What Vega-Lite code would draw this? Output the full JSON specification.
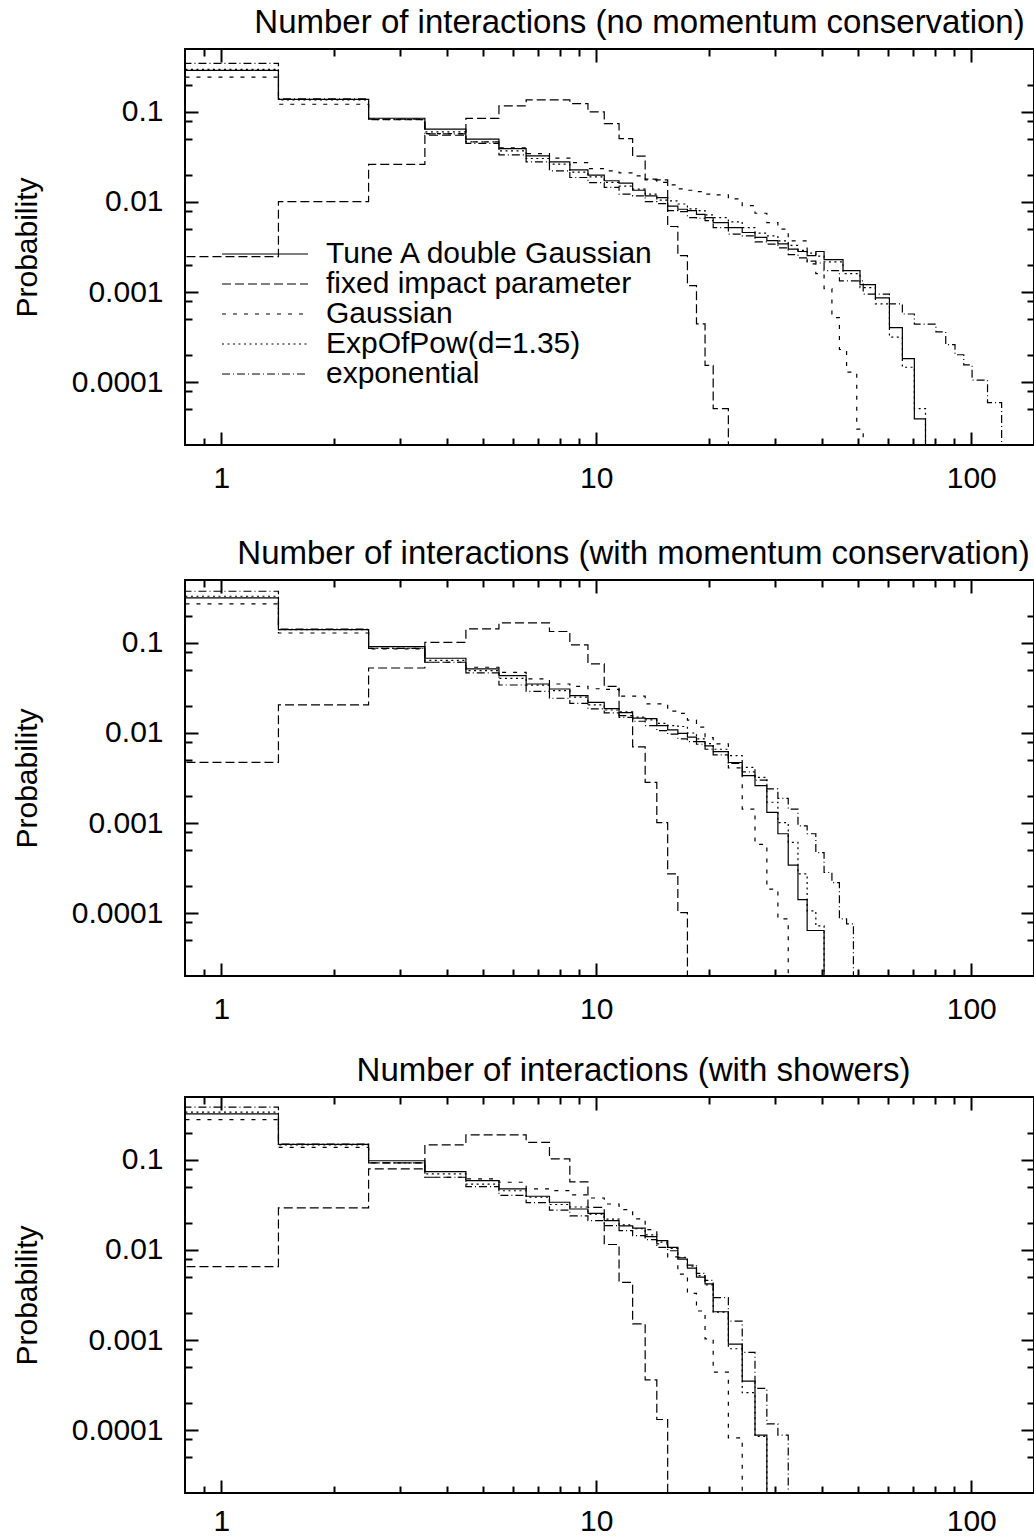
{
"$schema": "https://vega.github.io/schema/vega-lite/v6.json",
"background": "white",
"padding": {"left": 11, "top": 6, "right": 0, "bottom": 0},
"config": {
  "view": {"stroke": "black", "strokeWidth": 2},
  "font": "Liberation Sans",
  "title": {"font": "Liberation Sans", "fontSize": 33, "fontWeight": "normal", "color": "black", "anchor": "middle", "dx": 24, "offset": 8},
  "axis": {"labelFont": "Liberation Sans", "labelFontSize": 30, "labelColor": "black", "titleFont": "Liberation Sans", "titleFontSize": 30, "titleFontWeight": "normal", "titleColor": "black", "domain": false, "grid": false, "tickColor": "black", "tickWidth": 2, "labelFlush": false, "labelOverlap": false}
},
"datasets": {
"tick": [{"x": 1, "y": 0.1}],
"p1": [
{"series":"Tune A double Gaussian","x":0.5,"y":0.29},{"series":"Tune A double Gaussian","x":1.42,"y":0.138},{"series":"Tune A double Gaussian","x":2.47,"y":0.0851},{"series":"Tune A double Gaussian","x":3.49,"y":0.0643},{"series":"Tune A double Gaussian","x":4.49,"y":0.0498},{"series":"Tune A double Gaussian","x":5.5,"y":0.0392},{"series":"Tune A double Gaussian","x":6.5,"y":0.0325},{"series":"Tune A double Gaussian","x":7.5,"y":0.0279},{"series":"Tune A double Gaussian","x":8.5,"y":0.0227},{"series":"Tune A double Gaussian","x":9.5,"y":0.0199},{"series":"Tune A double Gaussian","x":10.5,"y":0.0172},{"series":"Tune A double Gaussian","x":11.5,"y":0.0162},{"series":"Tune A double Gaussian","x":12.5,"y":0.0135},{"series":"Tune A double Gaussian","x":13.5,"y":0.0117},{"series":"Tune A double Gaussian","x":14.5,"y":0.0112},{"series":"Tune A double Gaussian","x":15.5,"y":0.009},{"series":"Tune A double Gaussian","x":16.5,"y":0.0083},{"series":"Tune A double Gaussian","x":17.5,"y":0.008},{"series":"Tune A double Gaussian","x":18.5,"y":0.0073},{"series":"Tune A double Gaussian","x":19.5,"y":0.0067},{"series":"Tune A double Gaussian","x":20.5,"y":0.0059},{"series":"Tune A double Gaussian","x":22.5,"y":0.0052},{"series":"Tune A double Gaussian","x":24.5,"y":0.00458},{"series":"Tune A double Gaussian","x":26.5,"y":0.00404},{"series":"Tune A double Gaussian","x":28.5,"y":0.00372},{"series":"Tune A double Gaussian","x":30.5,"y":0.00342},{"series":"Tune A double Gaussian","x":32.5,"y":0.003},{"series":"Tune A double Gaussian","x":34.5,"y":0.00282},{"series":"Tune A double Gaussian","x":36.5,"y":0.00254},{"series":"Tune A double Gaussian","x":38.5,"y":0.00282},{"series":"Tune A double Gaussian","x":40.5,"y":0.00229},{"series":"Tune A double Gaussian","x":45.5,"y":0.00173},{"series":"Tune A double Gaussian","x":50.5,"y":0.00121},{"series":"Tune A double Gaussian","x":55.5,"y":0.00086},{"series":"Tune A double Gaussian","x":60.5,"y":0.000403},{"series":"Tune A double Gaussian","x":65.5,"y":0.000182},{"series":"Tune A double Gaussian","x":70.5,"y":0.000039},{"series":"Tune A double Gaussian","x":75.5,"y":0.000001},
{"series":"fixed impact parameter","x":0.5,"y":0.00247},{"series":"fixed impact parameter","x":1.42,"y":0.0101},{"series":"fixed impact parameter","x":2.47,"y":0.0261},{"series":"fixed impact parameter","x":3.49,"y":0.0551},{"series":"fixed impact parameter","x":4.49,"y":0.085},{"series":"fixed impact parameter","x":5.5,"y":0.1165},{"series":"fixed impact parameter","x":6.5,"y":0.136},{"series":"fixed impact parameter","x":7.5,"y":0.136},{"series":"fixed impact parameter","x":8.5,"y":0.124},{"series":"fixed impact parameter","x":9.5,"y":0.1},{"series":"fixed impact parameter","x":10.5,"y":0.0742},{"series":"fixed impact parameter","x":11.5,"y":0.0506},{"series":"fixed impact parameter","x":12.5,"y":0.0323},{"series":"fixed impact parameter","x":13.5,"y":0.0179},{"series":"fixed impact parameter","x":14.5,"y":0.0176},{"series":"fixed impact parameter","x":15.5,"y":0.00534},{"series":"fixed impact parameter","x":16.5,"y":0.00253},{"series":"fixed impact parameter","x":17.5,"y":0.00118},{"series":"fixed impact parameter","x":18.5,"y":0.000442},{"series":"fixed impact parameter","x":19.5,"y":0.000153},{"series":"fixed impact parameter","x":20.5,"y":0.0000506},{"series":"fixed impact parameter","x":22.5,"y":0.000001},
{"series":"Gaussian","x":0.5,"y":0.244},{"series":"Gaussian","x":1.42,"y":0.1217},{"series":"Gaussian","x":2.47,"y":0.082},{"series":"Gaussian","x":3.49,"y":0.0575},{"series":"Gaussian","x":4.49,"y":0.0465},{"series":"Gaussian","x":5.5,"y":0.04},{"series":"Gaussian","x":6.5,"y":0.0345},{"series":"Gaussian","x":7.5,"y":0.0307},{"series":"Gaussian","x":8.5,"y":0.0274},{"series":"Gaussian","x":9.5,"y":0.0235},{"series":"Gaussian","x":10.5,"y":0.0222},{"series":"Gaussian","x":11.5,"y":0.021},{"series":"Gaussian","x":12.5,"y":0.0195},{"series":"Gaussian","x":13.5,"y":0.0176},{"series":"Gaussian","x":14.5,"y":0.0165},{"series":"Gaussian","x":15.5,"y":0.0155},{"series":"Gaussian","x":16.5,"y":0.014},{"series":"Gaussian","x":17.5,"y":0.0135},{"series":"Gaussian","x":18.5,"y":0.013},{"series":"Gaussian","x":19.5,"y":0.0122},{"series":"Gaussian","x":20.5,"y":0.012},{"series":"Gaussian","x":22.5,"y":0.0108},{"series":"Gaussian","x":24.5,"y":0.0091},{"series":"Gaussian","x":26.5,"y":0.0075},{"series":"Gaussian","x":28.5,"y":0.0059},{"series":"Gaussian","x":30.5,"y":0.005},{"series":"Gaussian","x":32.5,"y":0.0037},{"series":"Gaussian","x":36.5,"y":0.00205},{"series":"Gaussian","x":38.5,"y":0.0016},{"series":"Gaussian","x":40.5,"y":0.00109},{"series":"Gaussian","x":42.5,"y":0.00052},{"series":"Gaussian","x":44.5,"y":0.00023},{"series":"Gaussian","x":46.5,"y":0.000129},{"series":"Gaussian","x":49.5,"y":0.00003},{"series":"Gaussian","x":51.5,"y":0.000001},
{"series":"ExpOfPow(d=1.35)","x":0.5,"y":0.297},{"series":"ExpOfPow(d=1.35)","x":1.42,"y":0.136},{"series":"ExpOfPow(d=1.35)","x":2.47,"y":0.082},{"series":"ExpOfPow(d=1.35)","x":3.49,"y":0.06},{"series":"ExpOfPow(d=1.35)","x":4.49,"y":0.0465},{"series":"ExpOfPow(d=1.35)","x":5.5,"y":0.037},{"series":"ExpOfPow(d=1.35)","x":6.5,"y":0.0304},{"series":"ExpOfPow(d=1.35)","x":7.5,"y":0.0263},{"series":"ExpOfPow(d=1.35)","x":8.5,"y":0.0215},{"series":"ExpOfPow(d=1.35)","x":9.5,"y":0.019},{"series":"ExpOfPow(d=1.35)","x":10.5,"y":0.0165},{"series":"ExpOfPow(d=1.35)","x":11.5,"y":0.015},{"series":"ExpOfPow(d=1.35)","x":12.5,"y":0.0139},{"series":"ExpOfPow(d=1.35)","x":13.5,"y":0.0122},{"series":"ExpOfPow(d=1.35)","x":14.5,"y":0.0105},{"series":"ExpOfPow(d=1.35)","x":15.5,"y":0.0103},{"series":"ExpOfPow(d=1.35)","x":16.5,"y":0.0095},{"series":"ExpOfPow(d=1.35)","x":17.5,"y":0.0084},{"series":"ExpOfPow(d=1.35)","x":18.5,"y":0.008},{"series":"ExpOfPow(d=1.35)","x":19.5,"y":0.0072},{"series":"ExpOfPow(d=1.35)","x":20.5,"y":0.0067},{"series":"ExpOfPow(d=1.35)","x":22.5,"y":0.006},{"series":"ExpOfPow(d=1.35)","x":24.5,"y":0.0052},{"series":"ExpOfPow(d=1.35)","x":26.5,"y":0.0045},{"series":"ExpOfPow(d=1.35)","x":28.5,"y":0.0042},{"series":"ExpOfPow(d=1.35)","x":30.5,"y":0.0037},{"series":"ExpOfPow(d=1.35)","x":32.5,"y":0.0033},{"series":"ExpOfPow(d=1.35)","x":34.5,"y":0.0029},{"series":"ExpOfPow(d=1.35)","x":36.5,"y":0.0027},{"series":"ExpOfPow(d=1.35)","x":38.5,"y":0.0025},{"series":"ExpOfPow(d=1.35)","x":40.5,"y":0.00216},{"series":"ExpOfPow(d=1.35)","x":45.5,"y":0.0016},{"series":"ExpOfPow(d=1.35)","x":50.5,"y":0.00112},{"series":"ExpOfPow(d=1.35)","x":55.5,"y":0.00074},{"series":"ExpOfPow(d=1.35)","x":60.5,"y":0.000316},{"series":"ExpOfPow(d=1.35)","x":65.5,"y":0.000146},{"series":"ExpOfPow(d=1.35)","x":70.5,"y":0.0000506},{"series":"ExpOfPow(d=1.35)","x":75.5,"y":0.000001},
{"series":"exponential","x":0.5,"y":0.347},{"series":"exponential","x":1.42,"y":0.14},{"series":"exponential","x":2.47,"y":0.083},{"series":"exponential","x":3.49,"y":0.057},{"series":"exponential","x":4.49,"y":0.0447},{"series":"exponential","x":5.5,"y":0.0333},{"series":"exponential","x":6.5,"y":0.0279},{"series":"exponential","x":7.5,"y":0.0222},{"series":"exponential","x":8.5,"y":0.0187},{"series":"exponential","x":9.5,"y":0.0164},{"series":"exponential","x":10.5,"y":0.0145},{"series":"exponential","x":11.5,"y":0.0122},{"series":"exponential","x":12.5,"y":0.0117},{"series":"exponential","x":13.5,"y":0.0101},{"series":"exponential","x":14.5,"y":0.0096},{"series":"exponential","x":15.5,"y":0.008},{"series":"exponential","x":16.5,"y":0.0078},{"series":"exponential","x":17.5,"y":0.0067},{"series":"exponential","x":18.5,"y":0.0066},{"series":"exponential","x":19.5,"y":0.0062},{"series":"exponential","x":20.5,"y":0.0052},{"series":"exponential","x":22.5,"y":0.0044},{"series":"exponential","x":24.5,"y":0.0042},{"series":"exponential","x":26.5,"y":0.0036},{"series":"exponential","x":28.5,"y":0.0034},{"series":"exponential","x":30.5,"y":0.0031},{"series":"exponential","x":32.5,"y":0.0026},{"series":"exponential","x":34.5,"y":0.0024},{"series":"exponential","x":36.5,"y":0.0022},{"series":"exponential","x":38.5,"y":0.0021},{"series":"exponential","x":40.5,"y":0.00173},{"series":"exponential","x":44.5,"y":0.00133},{"series":"exponential","x":51.5,"y":0.00095},{"series":"exponential","x":60.5,"y":0.00074},{"series":"exponential","x":65.5,"y":0.00057},{"series":"exponential","x":70.5,"y":0.00044},{"series":"exponential","x":80.5,"y":0.00036},{"series":"exponential","x":85.5,"y":0.00026},{"series":"exponential","x":90.5,"y":0.000201},{"series":"exponential","x":95.5,"y":0.000155},{"series":"exponential","x":100.5,"y":0.000105},{"series":"exponential","x":110.5,"y":0.000059},{"series":"exponential","x":120.5,"y":0.000001}
],
"p2": [
{"series":"Tune A double Gaussian","x":0.5,"y":0.316},{"series":"Tune A double Gaussian","x":1.42,"y":0.1406},{"series":"Tune A double Gaussian","x":2.47,"y":0.091},{"series":"Tune A double Gaussian","x":3.49,"y":0.0676},{"series":"Tune A double Gaussian","x":4.49,"y":0.0514},{"series":"Tune A double Gaussian","x":5.5,"y":0.0433},{"series":"Tune A double Gaussian","x":6.5,"y":0.035},{"series":"Tune A double Gaussian","x":7.5,"y":0.0308},{"series":"Tune A double Gaussian","x":8.5,"y":0.026},{"series":"Tune A double Gaussian","x":9.5,"y":0.0219},{"series":"Tune A double Gaussian","x":10.5,"y":0.0186},{"series":"Tune A double Gaussian","x":11.5,"y":0.0168},{"series":"Tune A double Gaussian","x":12.5,"y":0.0146},{"series":"Tune A double Gaussian","x":13.5,"y":0.0144},{"series":"Tune A double Gaussian","x":14.5,"y":0.0121},{"series":"Tune A double Gaussian","x":15.5,"y":0.0108},{"series":"Tune A double Gaussian","x":16.5,"y":0.0099},{"series":"Tune A double Gaussian","x":17.5,"y":0.009},{"series":"Tune A double Gaussian","x":18.5,"y":0.008},{"series":"Tune A double Gaussian","x":19.5,"y":0.0072},{"series":"Tune A double Gaussian","x":20.5,"y":0.0062},{"series":"Tune A double Gaussian","x":22.5,"y":0.0047},{"series":"Tune A double Gaussian","x":24.5,"y":0.00336},{"series":"Tune A double Gaussian","x":26.5,"y":0.0026},{"series":"Tune A double Gaussian","x":28.5,"y":0.00131},{"series":"Tune A double Gaussian","x":30.5,"y":0.00076},{"series":"Tune A double Gaussian","x":32.5,"y":0.000341},{"series":"Tune A double Gaussian","x":34.5,"y":0.000141},{"series":"Tune A double Gaussian","x":36.5,"y":0.000064},{"series":"Tune A double Gaussian","x":40.5,"y":0.000001},
{"series":"fixed impact parameter","x":0.5,"y":0.00472},{"series":"fixed impact parameter","x":1.42,"y":0.0205},{"series":"fixed impact parameter","x":2.47,"y":0.0527},{"series":"fixed impact parameter","x":3.49,"y":0.1017},{"series":"fixed impact parameter","x":4.49,"y":0.143},{"series":"fixed impact parameter","x":5.5,"y":0.167},{"series":"fixed impact parameter","x":6.5,"y":0.167},{"series":"fixed impact parameter","x":7.5,"y":0.134},{"series":"fixed impact parameter","x":8.5,"y":0.095},{"series":"fixed impact parameter","x":9.5,"y":0.0585},{"series":"fixed impact parameter","x":10.5,"y":0.033},{"series":"fixed impact parameter","x":11.5,"y":0.0156},{"series":"fixed impact parameter","x":12.5,"y":0.007},{"series":"fixed impact parameter","x":13.5,"y":0.00283},{"series":"fixed impact parameter","x":14.5,"y":0.00101},{"series":"fixed impact parameter","x":15.5,"y":0.000272},{"series":"fixed impact parameter","x":16.5,"y":0.000101},{"series":"fixed impact parameter","x":17.5,"y":0.000001},
{"series":"Gaussian","x":0.5,"y":0.271},{"series":"Gaussian","x":1.42,"y":0.129},{"series":"Gaussian","x":2.47,"y":0.086},{"series":"Gaussian","x":3.49,"y":0.061},{"series":"Gaussian","x":4.49,"y":0.0537},{"series":"Gaussian","x":5.5,"y":0.0472},{"series":"Gaussian","x":6.5,"y":0.0398},{"series":"Gaussian","x":7.5,"y":0.035},{"series":"Gaussian","x":8.5,"y":0.033},{"series":"Gaussian","x":9.5,"y":0.031},{"series":"Gaussian","x":10.5,"y":0.0305},{"series":"Gaussian","x":11.5,"y":0.0256},{"series":"Gaussian","x":12.5,"y":0.0256},{"series":"Gaussian","x":13.5,"y":0.021},{"series":"Gaussian","x":14.5,"y":0.021},{"series":"Gaussian","x":15.5,"y":0.0175},{"series":"Gaussian","x":16.5,"y":0.0165},{"series":"Gaussian","x":17.5,"y":0.0139},{"series":"Gaussian","x":18.5,"y":0.0116},{"series":"Gaussian","x":19.5,"y":0.0089},{"series":"Gaussian","x":20.5,"y":0.00756},{"series":"Gaussian","x":22.5,"y":0.0041},{"series":"Gaussian","x":24.5,"y":0.00143},{"series":"Gaussian","x":26.5,"y":0.00058},{"series":"Gaussian","x":28.5,"y":0.000184},{"series":"Gaussian","x":30.5,"y":0.000086},{"series":"Gaussian","x":32.5,"y":0.000001},
{"series":"ExpOfPow(d=1.35)","x":0.5,"y":0.33},{"series":"ExpOfPow(d=1.35)","x":1.42,"y":0.1406},{"series":"ExpOfPow(d=1.35)","x":2.47,"y":0.0873},{"series":"ExpOfPow(d=1.35)","x":3.49,"y":0.064},{"series":"ExpOfPow(d=1.35)","x":4.49,"y":0.0492},{"series":"ExpOfPow(d=1.35)","x":5.5,"y":0.0405},{"series":"ExpOfPow(d=1.35)","x":6.5,"y":0.034},{"series":"ExpOfPow(d=1.35)","x":7.5,"y":0.0295},{"series":"ExpOfPow(d=1.35)","x":8.5,"y":0.025},{"series":"ExpOfPow(d=1.35)","x":9.5,"y":0.0205},{"series":"ExpOfPow(d=1.35)","x":10.5,"y":0.018},{"series":"ExpOfPow(d=1.35)","x":11.5,"y":0.0172},{"series":"ExpOfPow(d=1.35)","x":12.5,"y":0.015},{"series":"ExpOfPow(d=1.35)","x":13.5,"y":0.014},{"series":"ExpOfPow(d=1.35)","x":14.5,"y":0.0128},{"series":"ExpOfPow(d=1.35)","x":15.5,"y":0.0121},{"series":"ExpOfPow(d=1.35)","x":16.5,"y":0.0118},{"series":"ExpOfPow(d=1.35)","x":17.5,"y":0.01},{"series":"ExpOfPow(d=1.35)","x":18.5,"y":0.0086},{"series":"ExpOfPow(d=1.35)","x":19.5,"y":0.0076},{"series":"ExpOfPow(d=1.35)","x":20.5,"y":0.0066},{"series":"ExpOfPow(d=1.35)","x":22.5,"y":0.0056},{"series":"ExpOfPow(d=1.35)","x":24.5,"y":0.00415},{"series":"ExpOfPow(d=1.35)","x":26.5,"y":0.00322},{"series":"ExpOfPow(d=1.35)","x":28.5,"y":0.0017},{"series":"ExpOfPow(d=1.35)","x":30.5,"y":0.00101},{"series":"ExpOfPow(d=1.35)","x":32.5,"y":0.00061},{"series":"ExpOfPow(d=1.35)","x":34.5,"y":0.000272},{"series":"ExpOfPow(d=1.35)","x":36.5,"y":0.000106},{"series":"ExpOfPow(d=1.35)","x":38.5,"y":0.000072},{"series":"ExpOfPow(d=1.35)","x":40.5,"y":0.000001},
{"series":"exponential","x":0.5,"y":0.375},{"series":"exponential","x":1.42,"y":0.142},{"series":"exponential","x":2.47,"y":0.087},{"series":"exponential","x":3.49,"y":0.061},{"series":"exponential","x":4.49,"y":0.0464},{"series":"exponential","x":5.5,"y":0.0341},{"series":"exponential","x":6.5,"y":0.029},{"series":"exponential","x":7.5,"y":0.0243},{"series":"exponential","x":8.5,"y":0.0213},{"series":"exponential","x":9.5,"y":0.0185},{"series":"exponential","x":10.5,"y":0.0167},{"series":"exponential","x":11.5,"y":0.0149},{"series":"exponential","x":12.5,"y":0.0135},{"series":"exponential","x":13.5,"y":0.0121},{"series":"exponential","x":14.5,"y":0.0106},{"series":"exponential","x":15.5,"y":0.0097},{"series":"exponential","x":16.5,"y":0.0086},{"series":"exponential","x":17.5,"y":0.008},{"series":"exponential","x":18.5,"y":0.0075},{"series":"exponential","x":19.5,"y":0.0066},{"series":"exponential","x":20.5,"y":0.0057},{"series":"exponential","x":22.5,"y":0.0046},{"series":"exponential","x":24.5,"y":0.0037},{"series":"exponential","x":26.5,"y":0.003},{"series":"exponential","x":28.5,"y":0.0024},{"series":"exponential","x":30.5,"y":0.00188},{"series":"exponential","x":32.5,"y":0.00143},{"series":"exponential","x":34.5,"y":0.00093},{"series":"exponential","x":36.5,"y":0.00076},{"series":"exponential","x":38.5,"y":0.00047},{"series":"exponential","x":40.5,"y":0.000282},{"series":"exponential","x":42.5,"y":0.000218},{"series":"exponential","x":44.5,"y":0.000086},{"series":"exponential","x":46.5,"y":0.000076},{"series":"exponential","x":48.5,"y":0.000001}
],
"p3": [
{"series":"Tune A double Gaussian","x":0.5,"y":0.324},{"series":"Tune A double Gaussian","x":1.42,"y":0.149},{"series":"Tune A double Gaussian","x":2.47,"y":0.098},{"series":"Tune A double Gaussian","x":3.49,"y":0.0742},{"series":"Tune A double Gaussian","x":4.49,"y":0.0589},{"series":"Tune A double Gaussian","x":5.5,"y":0.0476},{"series":"Tune A double Gaussian","x":6.5,"y":0.0395},{"series":"Tune A double Gaussian","x":7.5,"y":0.0339},{"series":"Tune A double Gaussian","x":8.5,"y":0.0285},{"series":"Tune A double Gaussian","x":9.5,"y":0.0255},{"series":"Tune A double Gaussian","x":10.5,"y":0.0212},{"series":"Tune A double Gaussian","x":11.5,"y":0.0185},{"series":"Tune A double Gaussian","x":12.5,"y":0.0175},{"series":"Tune A double Gaussian","x":13.5,"y":0.0141},{"series":"Tune A double Gaussian","x":14.5,"y":0.0127},{"series":"Tune A double Gaussian","x":15.5,"y":0.0107},{"series":"Tune A double Gaussian","x":16.5,"y":0.0079},{"series":"Tune A double Gaussian","x":17.5,"y":0.0063},{"series":"Tune A double Gaussian","x":18.5,"y":0.005},{"series":"Tune A double Gaussian","x":19.5,"y":0.0042},{"series":"Tune A double Gaussian","x":20.5,"y":0.00206},{"series":"Tune A double Gaussian","x":22.5,"y":0.0009},{"series":"Tune A double Gaussian","x":24.5,"y":0.00035},{"series":"Tune A double Gaussian","x":26.5,"y":0.000088},{"series":"Tune A double Gaussian","x":28.5,"y":0.000001},
{"series":"fixed impact parameter","x":0.5,"y":0.00653},{"series":"fixed impact parameter","x":1.42,"y":0.0293},{"series":"fixed impact parameter","x":2.47,"y":0.0794},{"series":"fixed impact parameter","x":3.49,"y":0.147},{"series":"fixed impact parameter","x":4.49,"y":0.19},{"series":"fixed impact parameter","x":5.5,"y":0.19},{"series":"fixed impact parameter","x":6.5,"y":0.157},{"series":"fixed impact parameter","x":7.5,"y":0.103},{"series":"fixed impact parameter","x":8.5,"y":0.057},{"series":"fixed impact parameter","x":9.5,"y":0.0298},{"series":"fixed impact parameter","x":10.5,"y":0.0115},{"series":"fixed impact parameter","x":11.5,"y":0.00436},{"series":"fixed impact parameter","x":12.5,"y":0.00151},{"series":"fixed impact parameter","x":13.5,"y":0.00036},{"series":"fixed impact parameter","x":14.5,"y":0.000131},{"series":"fixed impact parameter","x":15.5,"y":0.000001},
{"series":"Gaussian","x":0.5,"y":0.281},{"series":"Gaussian","x":1.42,"y":0.138},{"series":"Gaussian","x":2.47,"y":0.0926},{"series":"Gaussian","x":3.49,"y":0.0642},{"series":"Gaussian","x":4.49,"y":0.0615},{"series":"Gaussian","x":5.5,"y":0.0565},{"series":"Gaussian","x":6.5,"y":0.0476},{"series":"Gaussian","x":7.5,"y":0.0456},{"series":"Gaussian","x":8.5,"y":0.041},{"series":"Gaussian","x":9.5,"y":0.0378},{"series":"Gaussian","x":10.5,"y":0.0324},{"series":"Gaussian","x":11.5,"y":0.028},{"series":"Gaussian","x":12.5,"y":0.0222},{"series":"Gaussian","x":13.5,"y":0.0168},{"series":"Gaussian","x":14.5,"y":0.0117},{"series":"Gaussian","x":15.5,"y":0.0084},{"series":"Gaussian","x":16.5,"y":0.0054},{"series":"Gaussian","x":17.5,"y":0.0033},{"series":"Gaussian","x":18.5,"y":0.0021},{"series":"Gaussian","x":19.5,"y":0.00103},{"series":"Gaussian","x":20.5,"y":0.00044},{"series":"Gaussian","x":22.5,"y":0.000082},{"series":"Gaussian","x":24.5,"y":0.000001},
{"series":"ExpOfPow(d=1.35)","x":0.5,"y":0.339},{"series":"ExpOfPow(d=1.35)","x":1.42,"y":0.147},{"series":"ExpOfPow(d=1.35)","x":2.47,"y":0.0926},{"series":"ExpOfPow(d=1.35)","x":3.49,"y":0.07},{"series":"ExpOfPow(d=1.35)","x":4.49,"y":0.054},{"series":"ExpOfPow(d=1.35)","x":5.5,"y":0.0455},{"series":"ExpOfPow(d=1.35)","x":6.5,"y":0.0385},{"series":"ExpOfPow(d=1.35)","x":7.5,"y":0.032},{"series":"ExpOfPow(d=1.35)","x":8.5,"y":0.03},{"series":"ExpOfPow(d=1.35)","x":9.5,"y":0.025},{"series":"ExpOfPow(d=1.35)","x":10.5,"y":0.022},{"series":"ExpOfPow(d=1.35)","x":11.5,"y":0.019},{"series":"ExpOfPow(d=1.35)","x":12.5,"y":0.0172},{"series":"ExpOfPow(d=1.35)","x":13.5,"y":0.0147},{"series":"ExpOfPow(d=1.35)","x":14.5,"y":0.0122},{"series":"ExpOfPow(d=1.35)","x":15.5,"y":0.0104},{"series":"ExpOfPow(d=1.35)","x":16.5,"y":0.0083},{"series":"ExpOfPow(d=1.35)","x":17.5,"y":0.0066},{"series":"ExpOfPow(d=1.35)","x":18.5,"y":0.0052},{"series":"ExpOfPow(d=1.35)","x":19.5,"y":0.0041},{"series":"ExpOfPow(d=1.35)","x":20.5,"y":0.00204},{"series":"ExpOfPow(d=1.35)","x":22.5,"y":0.0008},{"series":"ExpOfPow(d=1.35)","x":24.5,"y":0.00026},{"series":"ExpOfPow(d=1.35)","x":26.5,"y":0.000085},{"series":"ExpOfPow(d=1.35)","x":28.5,"y":0.000001},
{"series":"exponential","x":0.5,"y":0.385},{"series":"exponential","x":1.42,"y":0.15},{"series":"exponential","x":2.47,"y":0.0926},{"series":"exponential","x":3.49,"y":0.0642},{"series":"exponential","x":4.49,"y":0.0505},{"series":"exponential","x":5.5,"y":0.0405},{"series":"exponential","x":6.5,"y":0.0335},{"series":"exponential","x":7.5,"y":0.0277},{"series":"exponential","x":8.5,"y":0.0239},{"series":"exponential","x":9.5,"y":0.0212},{"series":"exponential","x":10.5,"y":0.0186},{"series":"exponential","x":11.5,"y":0.0164},{"series":"exponential","x":12.5,"y":0.0144},{"series":"exponential","x":13.5,"y":0.013},{"series":"exponential","x":14.5,"y":0.0107},{"series":"exponential","x":15.5,"y":0.0098},{"series":"exponential","x":16.5,"y":0.0082},{"series":"exponential","x":17.5,"y":0.0068},{"series":"exponential","x":18.5,"y":0.0055},{"series":"exponential","x":19.5,"y":0.0046},{"series":"exponential","x":20.5,"y":0.00296},{"series":"exponential","x":22.5,"y":0.00162},{"series":"exponential","x":24.5,"y":0.00073},{"series":"exponential","x":26.5,"y":0.00029},{"series":"exponential","x":28.5,"y":0.000117},{"series":"exponential","x":30.5,"y":0.000088},{"series":"exponential","x":32.5,"y":0.000001}
]
},
"spacing": 29,
"resolve": {"scale": {"strokeDash": "independent"}, "legend": {"strokeDash": "independent"}},
"vconcat": [
{
"spacing": 43,
"resolve": {"scale": {"strokeDash": "independent"}, "legend": {"strokeDash": "independent"}},
"vconcat": [
{
"title": {"text": "Number of interactions (no momentum conservation)", "dx": 30},
"width": 849, "height": 396,
"layer": [
{"data": {"name": "p1"}, "mark": {"type": "line", "interpolate": "step-after", "clip": true, "color": "black", "strokeWidth": 1.2},
 "encoding": {
  "x": {"field": "x", "type": "quantitative", "scale": {"type": "log", "domain": [0.8, 147], "nice": false}, "axis": {"orient": "bottom", "values": [1, 10, 100], "format": "~g", "tickSize": -13, "labelPadding": 31, "title": null}},
  "y": {"field": "y", "type": "quantitative", "scale": {"type": "log", "domain": [0.00002, 0.5], "nice": false}, "axis": {"orient": "left", "values": [0.1, 0.01, 0.001, 0.0001], "format": "~g", "tickSize": -13, "labelPadding": 35, "title": "Probability", "titlePadding": 29}},
  "strokeDash": {"field": "series", "type": "nominal", "scale": {"domain": ["Tune A double Gaussian", "fixed impact parameter", "Gaussian", "ExpOfPow(d=1.35)", "exponential"], "range": [[1, 0], [9, 4], [4, 7], [2, 3.5], [8, 3, 1, 3]]},
   "legend": {"orient": "none", "legendX": 36, "legendY": 191, "title": null, "symbolType": "stroke", "symbolSize": 7400, "symbolStrokeWidth": 1.2, "symbolStrokeColor": "black", "labelFont": "Liberation Sans", "labelFontSize": 30, "labelColor": "black", "labelOffset": 17, "rowPadding": 0, "clipHeight": 28, "padding": 0, "labelLimit": 0}}
 }},
{"data": {"name": "tick"}, "mark": {"type": "point", "opacity": 0},
 "encoding": {
  "x": {"field": "x", "type": "quantitative", "scale": {"type": "log", "domain": [0.8, 147], "nice": false}, "axis": {"orient": "bottom", "values": [0.9, 2, 3, 4, 5, 6, 7, 8, 9, 20, 30, 40, 50, 60, 70, 80, 90], "labels": false, "tickSize": -7, "title": null}},
  "y": {"field": "y", "type": "quantitative", "scale": {"type": "log", "domain": [0.00002, 0.5], "nice": false}, "axis": {"orient": "left", "values": [0.2, 0.08, 0.05, 0.02, 0.008, 0.005, 0.002, 0.0008, 0.0005, 0.0002, 0.00008, 0.00005], "labels": false, "tickSize": -7, "title": null}}
 }},
{"data": {"name": "tick"}, "mark": {"type": "point", "opacity": 0},
 "encoding": {
  "x": {"field": "x", "type": "quantitative", "scale": {"type": "log", "domain": [0.8, 147], "nice": false}, "axis": {"orient": "top", "values": [1, 10, 100], "labels": false, "tickSize": -13, "title": null}},
  "y": {"field": "y", "type": "quantitative", "scale": {"type": "log", "domain": [0.00002, 0.5], "nice": false}, "axis": {"orient": "right", "values": [0.1, 0.01, 0.001, 0.0001], "labels": false, "tickSize": -13, "title": null}}
 }},
{"data": {"name": "tick"}, "mark": {"type": "point", "opacity": 0},
 "encoding": {
  "x": {"field": "x", "type": "quantitative", "scale": {"type": "log", "domain": [0.8, 147], "nice": false}, "axis": {"orient": "top", "values": [0.9, 2, 3, 4, 5, 6, 7, 8, 9, 20, 30, 40, 50, 60, 70, 80, 90], "labels": false, "tickSize": -7, "title": null}},
  "y": {"field": "y", "type": "quantitative", "scale": {"type": "log", "domain": [0.00002, 0.5], "nice": false}, "axis": {"orient": "right", "values": [0.2, 0.08, 0.05, 0.02, 0.008, 0.005, 0.002, 0.0008, 0.0005, 0.0002, 0.00008, 0.00005], "labels": false, "tickSize": -7, "title": null}}
 }}
],
"resolve": {"axis": {"x": "independent", "y": "independent"}}
},
{
"title": "Number of interactions (with momentum conservation)",
"width": 849, "height": 396,
"layer": [
{"data": {"name": "p2"}, "mark": {"type": "line", "interpolate": "step-after", "clip": true, "color": "black", "strokeWidth": 1.2},
 "encoding": {
  "x": {"field": "x", "type": "quantitative", "scale": {"type": "log", "domain": [0.8, 147], "nice": false}, "axis": {"orient": "bottom", "values": [1, 10, 100], "format": "~g", "tickSize": -13, "labelPadding": 31, "title": null}},
  "y": {"field": "y", "type": "quantitative", "scale": {"type": "log", "domain": [0.00002, 0.5], "nice": false}, "axis": {"orient": "left", "values": [0.1, 0.01, 0.001, 0.0001], "format": "~g", "tickSize": -13, "labelPadding": 35, "title": "Probability", "titlePadding": 29}},
  "strokeDash": {"field": "series", "type": "nominal", "scale": {"domain": ["Tune A double Gaussian", "fixed impact parameter", "Gaussian", "ExpOfPow(d=1.35)", "exponential"], "range": [[1, 0], [9, 4], [4, 7], [2, 3.5], [8, 3, 1, 3]]}, "legend": null}
 }},
{"data": {"name": "tick"}, "mark": {"type": "point", "opacity": 0},
 "encoding": {
  "x": {"field": "x", "type": "quantitative", "scale": {"type": "log", "domain": [0.8, 147], "nice": false}, "axis": {"orient": "bottom", "values": [0.9, 2, 3, 4, 5, 6, 7, 8, 9, 20, 30, 40, 50, 60, 70, 80, 90], "labels": false, "tickSize": -7, "title": null}},
  "y": {"field": "y", "type": "quantitative", "scale": {"type": "log", "domain": [0.00002, 0.5], "nice": false}, "axis": {"orient": "left", "values": [0.2, 0.08, 0.05, 0.02, 0.008, 0.005, 0.002, 0.0008, 0.0005, 0.0002, 0.00008, 0.00005], "labels": false, "tickSize": -7, "title": null}}
 }},
{"data": {"name": "tick"}, "mark": {"type": "point", "opacity": 0},
 "encoding": {
  "x": {"field": "x", "type": "quantitative", "scale": {"type": "log", "domain": [0.8, 147], "nice": false}, "axis": {"orient": "top", "values": [1, 10, 100], "labels": false, "tickSize": -13, "title": null}},
  "y": {"field": "y", "type": "quantitative", "scale": {"type": "log", "domain": [0.00002, 0.5], "nice": false}, "axis": {"orient": "right", "values": [0.1, 0.01, 0.001, 0.0001], "labels": false, "tickSize": -13, "title": null}}
 }},
{"data": {"name": "tick"}, "mark": {"type": "point", "opacity": 0},
 "encoding": {
  "x": {"field": "x", "type": "quantitative", "scale": {"type": "log", "domain": [0.8, 147], "nice": false}, "axis": {"orient": "top", "values": [0.9, 2, 3, 4, 5, 6, 7, 8, 9, 20, 30, 40, 50, 60, 70, 80, 90], "labels": false, "tickSize": -7, "title": null}},
  "y": {"field": "y", "type": "quantitative", "scale": {"type": "log", "domain": [0.00002, 0.5], "nice": false}, "axis": {"orient": "right", "values": [0.2, 0.08, 0.05, 0.02, 0.008, 0.005, 0.002, 0.0008, 0.0005, 0.0002, 0.00008, 0.00005], "labels": false, "tickSize": -7, "title": null}}
 }}
],
"resolve": {"axis": {"x": "independent", "y": "independent"}}
}
]
},
{
"title": "Number of interactions (with showers)",
"width": 849, "height": 396,
"layer": [
{"data": {"name": "p3"}, "mark": {"type": "line", "interpolate": "step-after", "clip": true, "color": "black", "strokeWidth": 1.2},
 "encoding": {
  "x": {"field": "x", "type": "quantitative", "scale": {"type": "log", "domain": [0.8, 147], "nice": false}, "axis": {"orient": "bottom", "values": [1, 10, 100], "format": "~g", "tickSize": -13, "labelPadding": 26, "title": null}},
  "y": {"field": "y", "type": "quantitative", "scale": {"type": "log", "domain": [0.00002, 0.5], "nice": false}, "axis": {"orient": "left", "values": [0.1, 0.01, 0.001, 0.0001], "format": "~g", "tickSize": -13, "labelPadding": 35, "title": "Probability", "titlePadding": 29}},
  "strokeDash": {"field": "series", "type": "nominal", "scale": {"domain": ["Tune A double Gaussian", "fixed impact parameter", "Gaussian", "ExpOfPow(d=1.35)", "exponential"], "range": [[1, 0], [9, 4], [4, 7], [2, 3.5], [8, 3, 1, 3]]}, "legend": null}
 }},
{"data": {"name": "tick"}, "mark": {"type": "point", "opacity": 0},
 "encoding": {
  "x": {"field": "x", "type": "quantitative", "scale": {"type": "log", "domain": [0.8, 147], "nice": false}, "axis": {"orient": "bottom", "values": [0.9, 2, 3, 4, 5, 6, 7, 8, 9, 20, 30, 40, 50, 60, 70, 80, 90], "labels": false, "tickSize": -7, "title": null}},
  "y": {"field": "y", "type": "quantitative", "scale": {"type": "log", "domain": [0.00002, 0.5], "nice": false}, "axis": {"orient": "left", "values": [0.2, 0.08, 0.05, 0.02, 0.008, 0.005, 0.002, 0.0008, 0.0005, 0.0002, 0.00008, 0.00005], "labels": false, "tickSize": -7, "title": null}}
 }},
{"data": {"name": "tick"}, "mark": {"type": "point", "opacity": 0},
 "encoding": {
  "x": {"field": "x", "type": "quantitative", "scale": {"type": "log", "domain": [0.8, 147], "nice": false}, "axis": {"orient": "top", "values": [1, 10, 100], "labels": false, "tickSize": -13, "title": null}},
  "y": {"field": "y", "type": "quantitative", "scale": {"type": "log", "domain": [0.00002, 0.5], "nice": false}, "axis": {"orient": "right", "values": [0.1, 0.01, 0.001, 0.0001], "labels": false, "tickSize": -13, "title": null}}
 }},
{"data": {"name": "tick"}, "mark": {"type": "point", "opacity": 0},
 "encoding": {
  "x": {"field": "x", "type": "quantitative", "scale": {"type": "log", "domain": [0.8, 147], "nice": false}, "axis": {"orient": "top", "values": [0.9, 2, 3, 4, 5, 6, 7, 8, 9, 20, 30, 40, 50, 60, 70, 80, 90], "labels": false, "tickSize": -7, "title": null}},
  "y": {"field": "y", "type": "quantitative", "scale": {"type": "log", "domain": [0.00002, 0.5], "nice": false}, "axis": {"orient": "right", "values": [0.2, 0.08, 0.05, 0.02, 0.008, 0.005, 0.002, 0.0008, 0.0005, 0.0002, 0.00008, 0.00005], "labels": false, "tickSize": -7, "title": null}}
 }}
],
"resolve": {"axis": {"x": "independent", "y": "independent"}}
}
]
}
